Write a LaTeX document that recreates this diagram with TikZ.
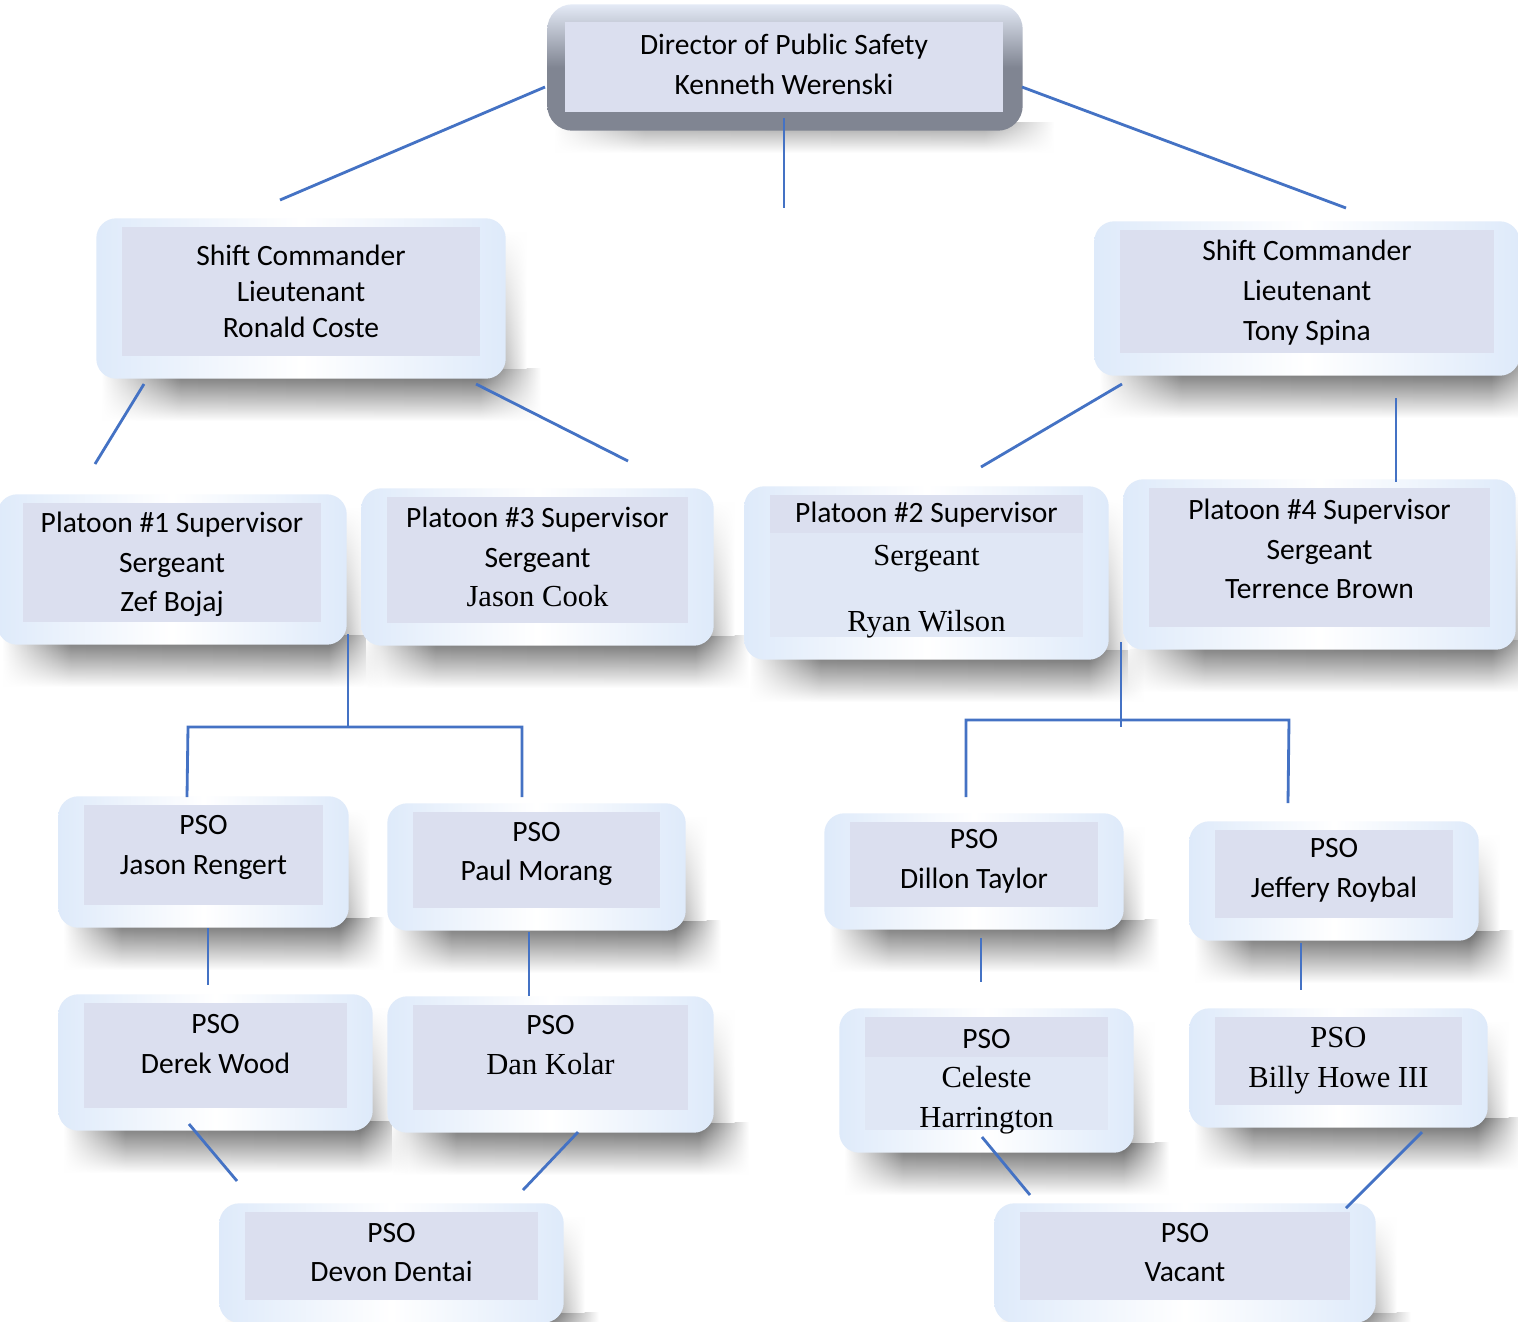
\documentclass[tikz,border=0pt]{standalone}
\usepackage{fontspec}
\setmainfont{Carlito}
\newfontfamily\antiqua{Liberation Serif}
\usetikzlibrary{positioning,fit,backgrounds,fadings}

\definecolor{cellfill}{RGB}{219,223,239}
\definecolor{paleband}{RGB}{224,231,245}
\definecolor{edgeblue}{RGB}{222,234,250}
\definecolor{linkblue}{RGB}{68,114,196}
\definecolor{dirgrey}{RGB}{128,133,146}
\definecolor{dirtop}{RGB}{228,234,246}

\newcommand{\bk}[1]{{\antiqua\fontsize{8.7}{11}\selectfont #1}}

\pgfdeclarehorizontalshading{shadowband}{100bp}{color(0bp)=(white); color(25bp)=(white);
  color(34bp)=(black!58); color(68bp)=(black!62); color(75bp)=(white); color(100bp)=(white)}

\tikzset{
  cell/.style={rectangle, fill=cellfill, inner sep=0pt},
  txt/.style={align=center, inner sep=0pt, font=\fontsize{8.4}{11.3}\selectfont},
  banded/.style={fill=paleband, path picture={\fill[cellfill]
    (path picture bounding box.north west) rectangle
    ([yshift=-#1]path picture bounding box.north east);}},
  shell/.style={rectangle, rounded corners=0.2cm, inner sep=0pt,
    left color=edgeblue, right color=edgeblue, middle color=white},
  shellof/.style={shell, fit={([shift={(-0.25,0.08)}]#1.north west)
    ([shift={(0.25,-0.22)}]#1.south east)}},
  topshell/.style={rectangle, rounded corners=0.25cm, inner sep=0pt,
    top color=dirtop, bottom color=dirgrey, middle color=dirgrey},
  link/.style={draw=linkblue, line width=0.8pt}
}

\begin{document}
\begin{tikzpicture}
\useasboundingbox (0,0) rectangle (15.18,-13.21);

% director
\node[cell, minimum width=4.38cm, minimum height=0.90cm] (dir) at (7.84,-0.67) {};
\node[txt, yshift=0.03cm] (dir-t) at (dir) {Director of Public Safety\\Kenneth Werenski};

% shift commanders
\node[cell, minimum width=3.58cm, minimum height=1.29cm] (coste) at (3.01,-2.915) {};
\node[txt, font=\fontsize{8.4}{10.3}\selectfont] (coste-t) at (coste) {Shift Commander\\Lieutenant\\Ronald Coste};
\node[cell, minimum width=3.74cm, minimum height=1.23cm] (spina) at (13.07,-2.915) {};
\node[txt, yshift=-0.01cm] (spina-t) at (spina) {Shift Commander\\Lieutenant\\Tony Spina};

% platoon supervisors
\node[cell, minimum width=2.98cm, minimum height=1.19cm] (bojaj) at (1.72,-5.625) {};
\node[txt, yshift=-0.02cm] (bojaj-t) at (bojaj) {Platoon \#1 Supervisor\\Sergeant\\Zef Bojaj};
\node[cell, minimum width=3.01cm, minimum height=1.26cm] (cook) at (5.375,-5.60) {};
\node[txt, yshift=0.03cm] (cook-t) at (cook) {Platoon \#3 Supervisor\\Sergeant\\\bk{Jason Cook}};
\node[cell, banded=0.38cm, minimum width=3.13cm, minimum height=1.42cm] (wilson) at (9.265,-5.66) {};
\node[txt, yshift=-0.04cm] (wilson-t) at (wilson) {Platoon \#2 Supervisor\\[1pt]\bk{Sergeant}\\[7.5pt]\bk{Ryan Wilson}};
\node[cell, minimum width=3.41cm, minimum height=1.39cm] (brown) at (13.195,-5.575) {};
\node[txt, yshift=0.085cm] (brown-t) at (brown) {Platoon \#4 Supervisor\\Sergeant\\Terrence Brown};

% pso
\node[cell, minimum width=2.39cm, minimum height=1.00cm] (rengert) at (2.035,-8.55) {};
\node[txt, yshift=0.075cm] (rengert-t) at (rengert) {PSO\\Jason Rengert};
\node[cell, minimum width=2.47cm, minimum height=0.96cm] (morang) at (5.365,-8.60) {};
\node[txt, yshift=0.06cm] (morang-t) at (morang) {PSO\\Paul Morang};
\node[cell, minimum width=2.48cm, minimum height=0.85cm] (taylor) at (9.74,-8.645) {};
\node[txt, yshift=0.03cm] (taylor-t) at (taylor) {PSO\\Dillon Taylor};
\node[cell, minimum width=2.38cm, minimum height=0.88cm] (roybal) at (13.34,-8.74) {};
\node[txt, yshift=0.04cm] (roybal-t) at (roybal) {PSO\\Jeffery Roybal};
\node[cell, minimum width=2.63cm, minimum height=1.05cm] (wood) at (2.155,-10.555) {};
\node[txt, yshift=0.115cm] (wood-t) at (wood) {PSO\\Derek Wood};
\node[cell, minimum width=2.75cm, minimum height=1.05cm] (kolar) at (5.505,-10.575) {};
\node[txt, yshift=0.125cm] (kolar-t) at (kolar) {PSO\\\bk{Dan Kolar}};
\node[cell, banded=0.40cm, minimum width=2.43cm, minimum height=1.13cm] (harrington) at (9.865,-10.735) {};
\node[txt, yshift=-0.08cm] (harrington-t) at (harrington) {PSO\\\bk{Celeste}\\\bk{Harrington}};
\node[cell, minimum width=2.47cm, minimum height=0.88cm] (howe) at (13.385,-10.61) {};
\node[txt] (howe-t) at (howe) {\bk{PSO}\\\bk{Billy Howe III}};
\node[cell, minimum width=2.93cm, minimum height=0.88cm] (dentai) at (3.915,-12.56) {};
\node[txt, yshift=0.035cm] (dentai-t) at (dentai) {PSO\\Devon Dentai};
\node[cell, minimum width=3.30cm, minimum height=0.88cm] (vacant) at (11.85,-12.56) {};
\node[txt, yshift=0.035cm] (vacant-t) at (vacant) {PSO\\Vacant};

\begin{scope}[on background layer]
\fill[white] (0,0) rectangle (15.18,-13.21);
% shadows
\shade[shading=shadowband, path fading=south, opacity=0.6]
  ([shift={(-0.1,-0.1)}]dir.south west) rectangle ([shift={(0.5,-0.4)}]dir.south east);
\foreach \n in {coste,spina,bojaj,cook,wilson,brown,rengert,morang,taylor,roybal,
  wood,kolar,harrington,howe,dentai,vacant} {
  \shade[shading=shadowband, path fading=south]
    ([shift={(-0.2,-0.12)}]\n.south west) rectangle ([shift={(0.6,-0.64)}]\n.south east);
  \shade[left color=black!30, right color=white, path fading=north]
    ([shift={(0.2,-0.05)}]\n.north east) rectangle ([shift={(0.46,-0.12)}]\n.south east);
}
\node[topshell, fit={([shift={(-0.17,0.17)}]dir.north west) ([shift={(0.19,-0.18)}]dir.south east)}] (dir-s) {};
\foreach \n in {coste,spina,bojaj,cook,wilson,brown,rengert,morang,taylor,roybal,
  wood,kolar,harrington,howe,dentai,vacant}
  \node[shellof=\n] (\n-s) {};
\end{scope}

% connector ends
\coordinate (c1) at (5.45,-0.87);   \coordinate (c2) at (2.80,-2.00);
\coordinate (c3) at (7.84,-1.18);   \coordinate (c4) at (7.84,-2.08);
\coordinate (c5) at (10.22,-0.87);  \coordinate (c6) at (13.46,-2.08);
\coordinate (c7) at (1.44,-3.84);   \coordinate (c8) at (0.95,-4.64);
\coordinate (c9) at (4.76,-3.84);   \coordinate (c10) at (6.28,-4.61);
\coordinate (c11) at (11.22,-3.84); \coordinate (c12) at (9.81,-4.67);
\coordinate (c13) at (13.96,-3.98); \coordinate (c14) at (13.96,-4.82);
\coordinate (l1) at (3.48,-6.34);   \coordinate (l2) at (3.48,-7.27);
\coordinate (l3) at (1.88,-7.27);   \coordinate (l4) at (5.22,-7.27);
\coordinate (l5) at (1.87,-7.97);   \coordinate (l6) at (5.22,-7.97);
\coordinate (r1) at (11.21,-6.42);  \coordinate (r2) at (11.21,-7.27);
\coordinate (r3) at (9.66,-7.20);   \coordinate (r4) at (12.89,-7.20);
\coordinate (r5) at (9.66,-7.97);   \coordinate (r6) at (12.88,-8.03);
\coordinate (p1) at (2.08,-9.28);   \coordinate (p2) at (2.08,-9.85);
\coordinate (p3) at (5.29,-9.32);   \coordinate (p4) at (5.29,-9.96);
\coordinate (p5) at (9.81,-9.38);   \coordinate (p6) at (9.81,-9.82);
\coordinate (p7) at (13.01,-9.43);  \coordinate (p8) at (13.01,-9.90);
\coordinate (q1) at (1.89,-11.24);  \coordinate (q2) at (2.37,-11.81);
\coordinate (q3) at (5.78,-11.32);  \coordinate (q4) at (5.23,-11.90);
\coordinate (q5) at (9.82,-11.37);  \coordinate (q6) at (10.30,-11.95);
\coordinate (q7) at (14.22,-11.32); \coordinate (q8) at (13.46,-12.08);

\draw[link] (c1) -- (c2);
\draw[link] (c3) -- (c4);
\draw[link] (c5) -- (c6);
\draw[link] (c7) -- (c8);
\draw[link] (c9) -- (c10);
\draw[link] (c11) -- (c12);
\draw[link] (c13) -- (c14);
\draw[link] (l1) -- (l2);
\draw[link] (l5) -- (l3) -- (l4) -- (l6);
\draw[link] (r1) -- (r2);
\draw[link] (r5) -- (r3) -- (r4) -- (r6);
\draw[link] (p1) -- (p2);
\draw[link] (p3) -- (p4);
\draw[link] (p5) -- (p6);
\draw[link] (p7) -- (p8);
\draw[link] (q1) -- (q2);
\draw[link] (q3) -- (q4);
\draw[link] (q5) -- (q6);
\draw[link] (q7) -- (q8);
\end{tikzpicture}
\end{document}
